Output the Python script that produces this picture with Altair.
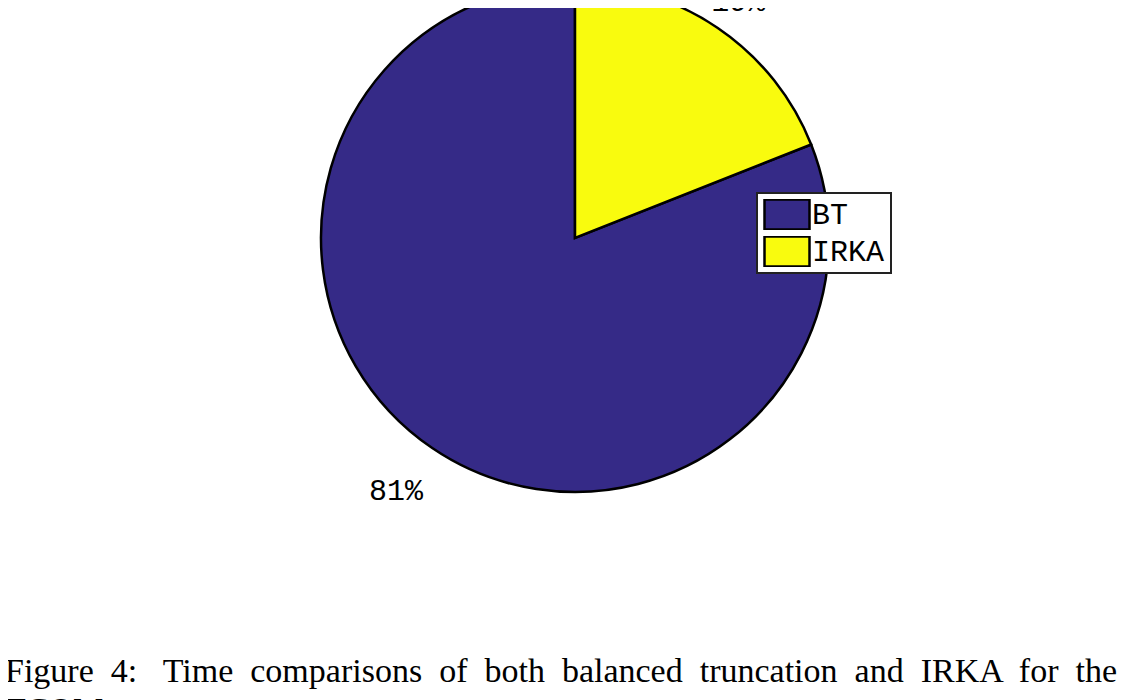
import altair as alt
import pandas as pd
import math

categories = ["BT", "IRKA"]
values = [81, 19]
labels = ["81%", "19%"]
stack_order = [2, 1]
colors = ["#352a87", "#f9fb0e"]

df = pd.DataFrame({"method": categories, "value": values, "label": labels, "ord": stack_order})

caption_words = ["Figure", "4:\u00a0", "Time", "comparisons", "of", "both", "balanced",
                 "truncation", "and", "IRKA", "for", "the"]
caption = [" \u00a0".join(caption_words), "TCOM."]

mono = "Courier New, Courier, Nimbus Mono PS, FreeMono, Liberation Mono, monospace"

base = alt.Chart(df).encode(
    x=alt.value(567),
    y=alt.value(230),
)

pie = base.mark_arc(radius=254, stroke="black", strokeWidth=2.5).encode(
    theta=alt.Theta("value:Q", stack=True),
    order=alt.Order("ord:Q"),
    color=alt.Color(
        "method:N",
        scale=alt.Scale(domain=categories, range=colors),
        legend=alt.Legend(
            title=None,
            orient="none",
            legendX=749,
            legendY=185,
            symbolType="M-1,-1H2V1H-1Z",
            symbolSize=900,
            symbolStrokeColor="black",
            symbolStrokeWidth=2.5,
            symbolOpacity=1,
            labelFont=mono,
            labelFontSize=30,
            labelColor="black",
            labelOffset=16,
            clipHeight=31,
            rowPadding=6,
            padding=6,
            strokeColor="#222222",
            fillColor="white",
            labelLimit=300,
        ),
    )
)

label_base = base.transform_stack(
    stack="value", groupby=[], as_=["v0", "v1"], sort=[alt.SortField("ord", order="ascending")]
).transform_calculate(mid="(datum.v0 + datum.v1) / 2")

theta_mid = alt.Theta("mid:Q", scale=alt.Scale(domain=[0, 100], range=[0, 2 * math.pi]))

text_lo = label_base.transform_filter(alt.datum.method == "BT").mark_text(
    radius=306, dx=-7, font=mono, fontSize=30, color="black"
).encode(theta=theta_mid, text="label:N")

text_hi = label_base.transform_filter(alt.datum.method == "IRKA").mark_text(
    radius=285, dx=3, font=mono, fontSize=30, color="black"
).encode(theta=theta_mid, text="label:N")

chart = (
    alt.layer(pie, text_lo, text_hi)
    .resolve_scale(theta="independent")
    .properties(
        width=1111,
        height=692,
        padding=0,
        autosize=alt.AutoSizeParams(type="none"),
        title=alt.TitleParams(
            text=caption,
            orient="bottom",
            anchor="start",
            font="Liberation Serif",
            fontSize=34,
            fontWeight="normal",
            color="black",
            lineHeight=39,
            offset=-45,
            dx=-3,
        ),
    )
    .configure_view(stroke=None)
    .configure_legend(strokeWidth=2)
)

chart.save("out.html", embed_options={"renderer": "svg", "actions": False})
